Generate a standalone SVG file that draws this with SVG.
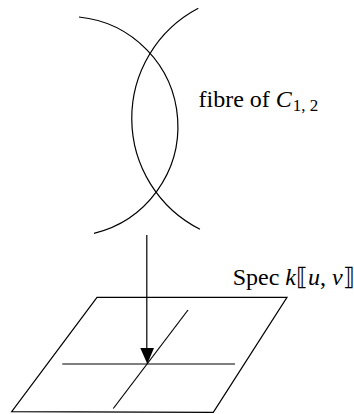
<svg xmlns="http://www.w3.org/2000/svg" width="354" height="414" viewBox="0 0 354 414">
<style>
.ln{fill:none;stroke:#000;stroke-width:1.2;}
.t{font-family:"Liberation Serif","DejaVu Serif",serif;font-size:24px;fill:#000;}
.it{font-style:italic;}
</style>
<rect width="354" height="414" fill="#fff"/>
<g id="fibre">
<path class="ln" d="M79,17 A110,110 0 0 1 94,233.3"/>
<path class="ln" d="M198.3,8.3 A124.3,124.3 0 0 0 200,229.3"/>
<text class="t" x="198.5" y="106.5">fibre of <tspan class="it">C</tspan><tspan font-size="17" dy="4" dx="1">1, 2</tspan></text>
</g>
<g id="spec">
<polygon class="ln" points="97,297.3 287,297.3 213.3,412.3 11.7,411.7"/>
<line class="ln" x1="62.3" y1="364" x2="235" y2="364"/>
<line class="ln" x1="188" y1="310" x2="113.3" y2="408.5"/>
<text class="t" x="232.7" y="285">Spec <tspan class="it">k</tspan>⟦<tspan class="it">u</tspan>, <tspan class="it">v</tspan>⟧</text>
</g>
<g id="connectors">
<line class="ln" x1="146.8" y1="235" x2="146.8" y2="350"/>
<polygon points="140.3,348 154,348 147.3,364" fill="#000"/>
</g>
</svg>
